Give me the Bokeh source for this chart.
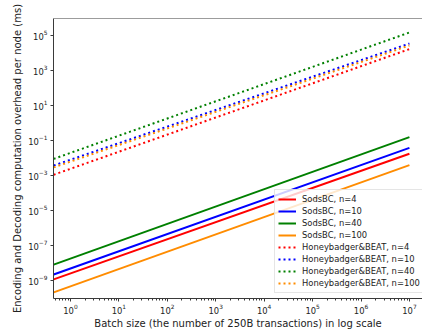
from bokeh.plotting import figure
from bokeh.models import Range1d, FixedTicker, LogTickFormatter, Legend, Span
from bokeh.embed import file_html
from bokeh.resources import INLINE

# ---- data ----
batch_size = [0.45, 1e7]

sodsbc_n4 = [1.15e-9, 1.74e-2]
sodsbc_n10 = [2.19e-9, 3.8e-2]
sodsbc_n40 = [8.1e-9, 1.55e-1]
sodsbc_n100 = [2.1e-10, 3.9e-3]

hb_n4 = [1.1e-3, 1.66e4]
hb_n10 = [3.7e-3, 3.47e4]
hb_n40 = [8.9e-3, 1.48e5]
hb_n100 = [2.9e-3, 2.69e4]

labels_sods = ["SodsBC, n=4", "SodsBC, n=10", "SodsBC, n=40", "SodsBC, n=100"]
labels_hb = ["Honeybadger&BEAT, n=4", "Honeybadger&BEAT, n=10",
             "Honeybadger&BEAT, n=40", "Honeybadger&BEAT, n=100"]
colors = ["#ff0000", "#0000ff", "#008000", "#ff8c00"]

x_major = [1e0, 1e1, 1e2, 1e3, 1e4, 1e5, 1e6, 1e7]
y_major = [1e-9, 1e-7, 1e-5, 1e-3, 1e-1, 1e1, 1e3, 1e5]

FONT = "DejaVu Sans"
AX = "#3a3a3a"
Y_TOP = 10 ** 5.97

p = figure(width=422, height=331, x_axis_type="log", y_axis_type="log",
           x_range=Range1d(10 ** -0.35, 10 ** 7.27),
           y_range=Range1d(10 ** -10.03, Y_TOP),
           output_backend="svg", toolbar_location=None,
           min_border_left=53, min_border_right=0, min_border_top=18,
           min_border_bottom=33)
p.outline_line_color = None
p.grid.visible = False
p.background_fill_color = "white"
p.border_fill_color = "white"

x_minor = [m * 10 ** e for e in range(-1, 8) for m in range(2, 10)]
p.xaxis.ticker = FixedTicker(ticks=x_major, minor_ticks=x_minor)
p.yaxis.ticker = FixedTicker(ticks=y_major, minor_ticks=[])
p.xaxis.formatter = LogTickFormatter()
p.yaxis.formatter = LogTickFormatter()

for ax in (p.xaxis[0], p.yaxis[0]):
    ax.axis_line_color = AX
    ax.axis_line_width = 1
    ax.major_tick_line_color = AX
    ax.minor_tick_line_color = AX
    ax.major_tick_out = 3
    ax.major_tick_in = 0
    ax.minor_tick_out = 2
    ax.minor_tick_in = 0
    ax.major_label_text_font = FONT
    ax.major_label_text_font_size = "8.4px"
    ax.major_label_text_color = "#222222"
    ax.axis_label_text_font = FONT
    ax.axis_label_text_font_style = "normal"
    ax.axis_label_text_color = "#222222"
    ax.axis_label_text_font_size = "10px"

p.xaxis.axis_label = "Batch size (the number of 250B transactions) in log scale"
p.yaxis.axis_label = "Encoding and Decoding computation overhead per node (ms)"
p.xaxis.major_label_standoff = 2
p.xaxis.axis_label_standoff = 1
p.yaxis.major_label_standoff = 3
p.yaxis.axis_label_standoff = 2

p.add_layout(Span(location=Y_TOP, dimension="width", line_color=AX, line_width=1))

items = []
for ys, lab, c in zip([sodsbc_n4, sodsbc_n10, sodsbc_n40, sodsbc_n100], labels_sods, colors):
    r = p.line(batch_size, ys, line_color=c, line_width=2)
    items.append((lab, [r]))
for ys, lab, c in zip([hb_n4, hb_n10, hb_n40, hb_n100], labels_hb, colors):
    r = p.line(batch_size, ys, line_color=c, line_width=2, line_dash="2 3")
    items.append((lab, [r]))

legend = Legend(items=items, location=(221, 5))
legend.label_text_font = FONT
legend.label_text_font_size = "8.4px"
legend.label_text_color = "#222222"
legend.glyph_width = 18
legend.glyph_height = 12
legend.label_height = 12
legend.label_standoff = 6
legend.spacing = 0
legend.padding = 3
legend.margin = 0
legend.border_line_color = "#cccccc"
legend.border_line_width = 1
legend.background_fill_color = "white"
legend.background_fill_alpha = 0.8
p.add_layout(legend, "center")

open("out.html", "w").write(file_html(p, INLINE))
